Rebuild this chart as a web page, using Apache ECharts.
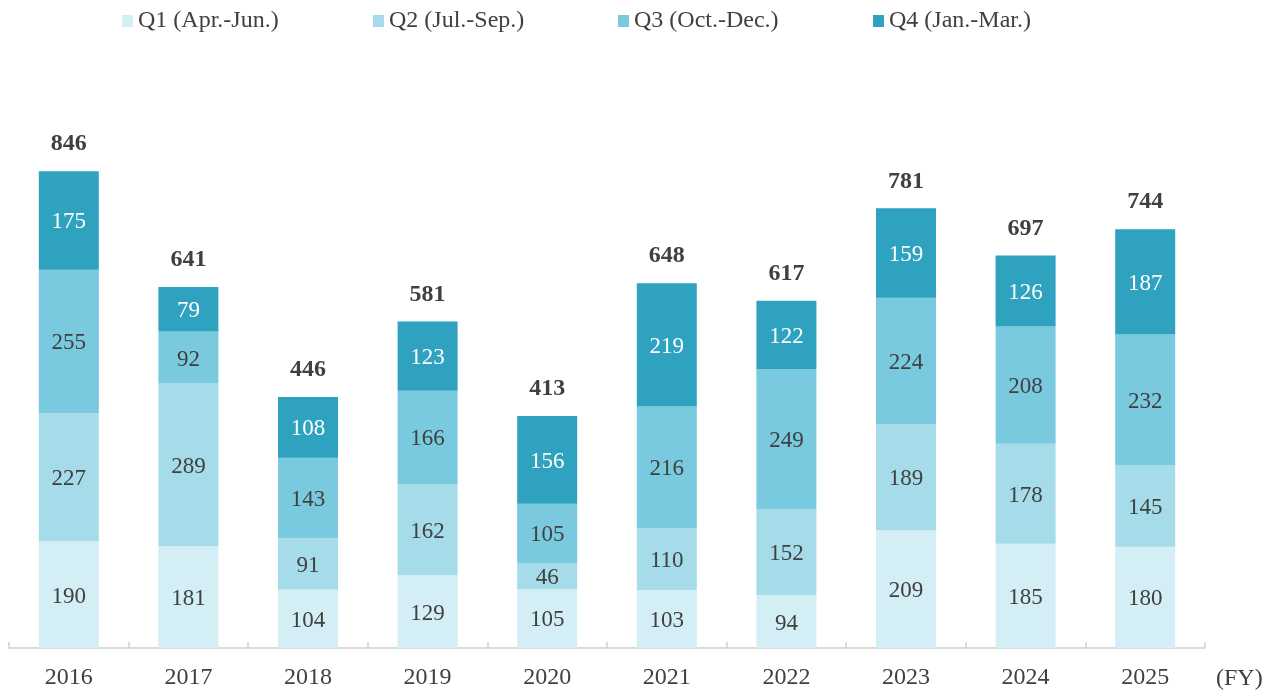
<!DOCTYPE html>
<html>
<head>
<meta charset="utf-8">
<script src="https://cdn.jsdelivr.net/npm/echarts@6/dist/echarts.min.js"></script>
<style>
  html, body { margin: 0; padding: 0; background: #ffffff; }
  #chart { width: 1277px; height: 690px; }
</style>
</head>
<body>
<div id="chart"></div>
<script>
// Fiscal years and quarterly values
const years = ['2016', '2017', '2018', '2019', '2020', '2021', '2022', '2023', '2024', '2025'];
const q1 = [190, 181, 104, 129, 105, 103, 94, 209, 185, 180];
const q2 = [227, 289, 91, 162, 46, 110, 152, 189, 178, 145];
const q3 = [255, 92, 143, 166, 105, 216, 249, 224, 208, 232];
const q4 = [175, 79, 108, 123, 156, 219, 122, 159, 126, 187];
const totals = [846, 641, 446, 581, 413, 648, 617, 781, 697, 744];
const seriesNames = ['Q1 (Apr.-Jun.)', 'Q2 (Jul.-Sep.)', 'Q3 (Oct.-Dec.)', 'Q4 (Jan.-Mar.)'];

const colors = ['#d4eef5', '#a6dce9', '#79cadf', '#2ea2bf'];
const font = '"Liberation Serif", "Times New Roman", serif';
const textColor = '#404040';

// one legend per quarter so each entry sits at its own column
const legendLefts = [122, 373, 618, 873];
const legends = seriesNames.map((name, i) => ({
  left: legendLefts[i],
  top: 9,
  padding: 0,
  itemWidth: 11,
  itemHeight: 12,
  icon: 'rect',
  selectedMode: false,
  textStyle: { fontFamily: font, fontSize: 24, color: textColor },
  data: [name]
}));

function quarterSeries(name, data, color, labelColor) {
  return {
    name: name,
    type: 'bar',
    stack: 'fy',
    barWidth: 60,
    data: data,
    itemStyle: { color: color },
    label: {
      show: true,
      position: 'inside',
      offset: [0, 2],
      color: labelColor,
      fontFamily: font,
      fontSize: 23
    },
    emphasis: { disabled: true }
  };
}

const chart = echarts.init(document.getElementById('chart'), null, { renderer: 'canvas' });
chart.setOption({
  animation: false,
  color: colors,
  grid: { left: 9, right: 72, top: 85, bottom: 41.5, containLabel: false },
  legend: legends,
  xAxis: {
    type: 'category',
    data: years,
    axisLine: { lineStyle: { color: '#d0d0d0', width: 1.5 } },
    axisTick: { show: true, inside: true, length: 6, lineStyle: { color: '#d0d0d0', width: 1.5 } },
    axisLabel: { color: textColor, fontFamily: font, fontSize: 24, margin: 18 }
  },
  yAxis: {
    type: 'value',
    min: 0,
    max: 1000,
    show: false
  },
  graphic: [{
    type: 'text',
    left: 1216,
    top: 667,
    style: { text: '(FY)', fill: textColor, font: '24px ' + font }
  }],
  series: [
    quarterSeries(seriesNames[0], q1, colors[0], textColor),
    quarterSeries(seriesNames[1], q2, colors[1], textColor),
    quarterSeries(seriesNames[2], q3, colors[2], textColor),
    quarterSeries(seriesNames[3], q4, colors[3], '#ffffff'),
    {
      name: 'total',
      type: 'bar',
      stack: 'fy',
      barWidth: 60,
      data: years.map(() => 0),
      itemStyle: { color: 'transparent' },
      label: {
        show: true,
        position: 'top',
        distance: 15,
        formatter: (p) => String(totals[p.dataIndex]),
        color: textColor,
        fontFamily: font,
        fontSize: 24,
        fontWeight: 'bold'
      },
      emphasis: { disabled: true },
      legendHoverLink: false
    }
  ]
});
</script>
</body>
</html>
